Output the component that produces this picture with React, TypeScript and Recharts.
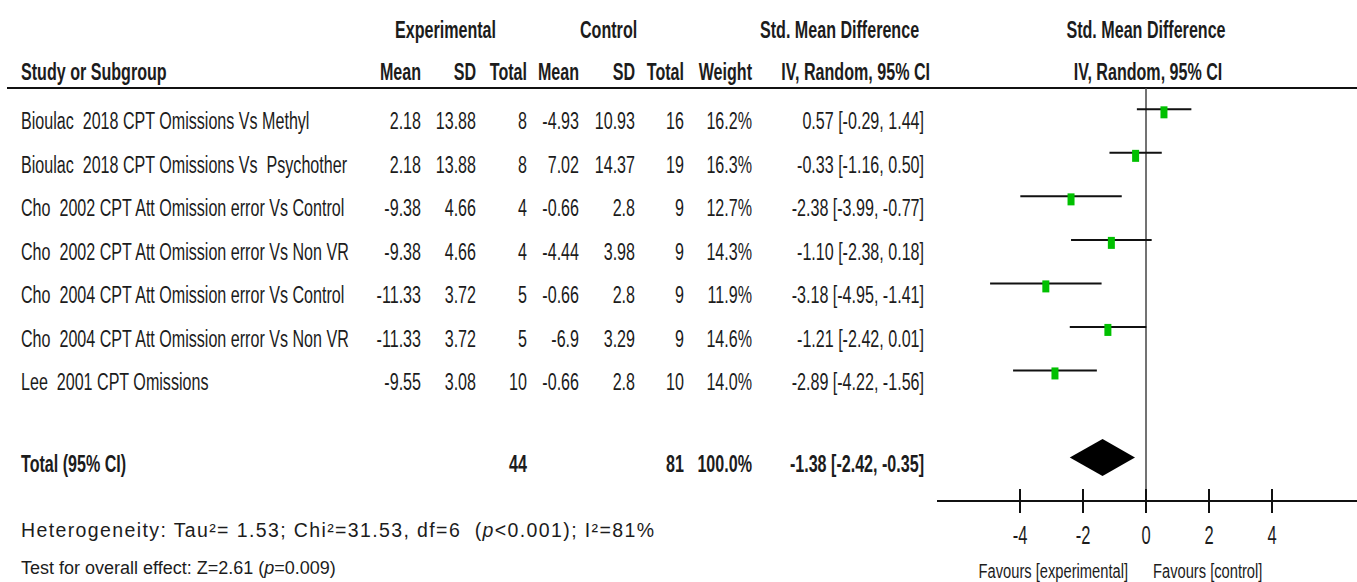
import { ComposedChart, Scatter, ErrorBar, XAxis, YAxis, ReferenceLine } from 'recharts'

// study rows
const studyNames = [
  'Bioulac  2018 CPT Omissions Vs Methyl',
  'Bioulac  2018 CPT Omissions Vs  Psychother',
  'Cho  2002 CPT Att Omission error Vs Control',
  'Cho  2002 CPT Att Omission error Vs Non VR',
  'Cho  2004 CPT Att Omission error Vs Control',
  'Cho  2004 CPT Att Omission error Vs Non VR',
  'Lee  2001 CPT Omissions',
]
const expMean = [2.18, 2.18, -9.38, -9.38, -11.33, -11.33, -9.55]
const expSD = [13.88, 13.88, 4.66, 4.66, 3.72, 3.72, 3.08]
const expN = [8, 8, 4, 4, 5, 5, 10]
const ctrlMean = [-4.93, 7.02, -0.66, -4.44, -0.66, -6.9, -0.66]
const ctrlSD = [10.93, 14.37, 2.8, 3.98, 2.8, 3.29, 2.8]
const ctrlN = [16, 19, 9, 9, 9, 9, 10]
const weights = [16.2, 16.3, 12.7, 14.3, 11.9, 14.6, 14.0]
const smd = [0.57, -0.33, -2.38, -1.1, -3.18, -1.21, -2.89]
const ciLow = [-0.29, -1.16, -3.99, -2.38, -4.95, -2.42, -4.22]
const ciHigh = [1.44, 0.5, -0.77, 0.18, -1.41, 0.01, -1.56]

// pooled estimate
const totalSmd = -1.38
const totalLow = -2.42
const totalHigh = -0.35
const totalExpN = 44
const totalCtrlN = 81
const totalWeight = 100.0

const xTicks = [-4, -2, 0, 2, 4]
const TOTAL_ROW = 9

const studyData = smd.map((v, i) => ({
  x: v,
  y: i + 1,
  err: [v - ciLow[i], ciHigh[i] - v],
}))
const diamondData = [totalLow, totalSmd, totalHigh].map((v) => ({ x: v, y: TOTAL_ROW }))
const rowTicks = [...studyNames.map((_, i) => i + 1), TOTAL_ROW]

const INK = '#1c1c1c'
const FONT = '"Liberation Sans", Arial, sans-serif'
const NARROW = 0.685

const fmtCI = (m: number, lo: number, hi: number) =>
  `${m.toFixed(2)} [${lo.toFixed(2)}, ${hi.toFixed(2)}]`

function NText({ x, y, anchor = 'start', bold = false, size = 23.5, sx = NARROW, children }: any) {
  return (
    <text
      transform={`translate(${x},${y}) scale(${sx},1)`}
      textAnchor={anchor}
      fontFamily={FONT}
      fontSize={size}
      fontWeight={bold ? 700 : 400}
      fill={INK}
      style={{ whiteSpace: 'pre' }}
    >
      {children}
    </text>
  )
}

// table columns: right edges of the numeric columns
const COL = { name: 21, eMean: 421, eSD: 476, eN: 527, cMean: 579, cSD: 635, cN: 684, w: 752, ci: 924 }

function RowTick(props: any) {
  const { y, payload } = props
  const v = payload.value
  if (v === TOTAL_ROW) {
    const by = y + 15
    return (
      <g>
        <NText x={COL.name} y={by} bold>Total (95% CI)</NText>
        <NText x={COL.eN} y={by} anchor="end" bold>{totalExpN}</NText>
        <NText x={COL.cN} y={by} anchor="end" bold>{totalCtrlN}</NText>
        <NText x={COL.w} y={by} anchor="end" bold>{totalWeight.toFixed(1)}%</NText>
        <NText x={COL.ci} y={by} anchor="end" bold>{fmtCI(totalSmd, totalLow, totalHigh)}</NText>
      </g>
    )
  }
  const i = v - 1
  const by = y + 20
  return (
    <g>
      <NText x={COL.name} y={by}>{studyNames[i]}</NText>
      <NText x={COL.eMean} y={by} anchor="end">{String(expMean[i])}</NText>
      <NText x={COL.eSD} y={by} anchor="end">{String(expSD[i])}</NText>
      <NText x={COL.eN} y={by} anchor="end">{expN[i]}</NText>
      <NText x={COL.cMean} y={by} anchor="end">{String(ctrlMean[i])}</NText>
      <NText x={COL.cSD} y={by} anchor="end">{String(ctrlSD[i])}</NText>
      <NText x={COL.cN} y={by} anchor="end">{ctrlN[i]}</NText>
      <NText x={COL.w} y={by} anchor="end">{weights[i].toFixed(1)}%</NText>
      <NText x={COL.ci} y={by} anchor="end">{fmtCI(smd[i], ciLow[i], ciHigh[i])}</NText>
    </g>
  )
}

function AxisTick(props: any) {
  const { x, y, payload } = props
  return (
    <g>
      <line x1={x} x2={x} y1={y - 12} y2={y + 12} stroke="#111" strokeWidth={2} />
      <NText x={x} y={y + 43} anchor="middle" size={25} sx={0.66}>{String(payload.value)}</NText>
    </g>
  )
}

const StudyBox = (props: any) => {
  const { cx, cy } = props
  return <rect x={cx - 3.5} y={cy - 3} width={7} height={12} fill="#00C000" />
}

const Diamond = (props: any) => {
  const p = props.points
  if (!p || p.length < 3) return <g />
  const [lo, mid, hi] = p
  const h = 18.5
  return (
    <polygon
      points={`${lo.x},${lo.y} ${mid.x},${mid.y - h} ${hi.x},${hi.y} ${mid.x},${mid.y + h}`}
      fill="#000"
    />
  )
}

export default function App() {
  return (
    <div style={{ position: 'absolute', left: 0, top: 0, background: '#fff' }}>
      <ComposedChart width={1357} height={582} margin={{ top: 88, right: 0, bottom: 0, left: 0 }}>
        <XAxis
          type="number"
          dataKey="x"
          domain={[-6.635, 6.698]}
          allowDataOverflow
          ticks={xTicks}
          interval={0}
          height={81}
          tickSize={0}
          tickMargin={0}
          tickLine={false}
          axisLine={{ stroke: '#111', strokeWidth: 2 }}
          tick={<AxisTick />}
        />
        <YAxis
          type="number"
          dataKey="y"
          domain={[0.51, 10]}
          reversed
          allowDataOverflow
          ticks={rowTicks}
          interval={0}
          width={937}
          axisLine={false}
          tickLine={false}
          tick={<RowTick />}
        />
        <ReferenceLine x={0} stroke="#444" strokeWidth={1.5} />
        <Scatter data={studyData} shape={<StudyBox />} isAnimationActive={false}>
          <ErrorBar dataKey="err" direction="x" width={0} stroke="#111" strokeWidth={2} isAnimationActive={false} />
        </Scatter>
        <Scatter
          data={diamondData}
          shape={() => <g />}
          line={Diamond}
          isAnimationActive={false}
        />

        {/* column headers */}
        <NText x={395} y={38} bold>Experimental</NText>
        <NText x={580} y={38} bold>Control</NText>
        <NText x={760} y={38} bold>Std. Mean Difference</NText>
        <NText x={1146} y={38} anchor="middle" bold>Std. Mean Difference</NText>
        <NText x={COL.name} y={80} bold>Study or Subgroup</NText>
        <NText x={COL.eMean} y={80} anchor="end" bold>Mean</NText>
        <NText x={COL.eSD} y={80} anchor="end" bold>SD</NText>
        <NText x={COL.eN} y={80} anchor="end" bold>Total</NText>
        <NText x={COL.cMean} y={80} anchor="end" bold>Mean</NText>
        <NText x={COL.cSD} y={80} anchor="end" bold>SD</NText>
        <NText x={COL.cN} y={80} anchor="end" bold>Total</NText>
        <NText x={COL.w} y={80} anchor="end" bold>Weight</NText>
        <NText x={930} y={80} anchor="end" bold>IV, Random, 95% CI</NText>
        <NText x={1148} y={80} anchor="middle" bold>IV, Random, 95% CI</NText>
        <line x1={7} x2={1357} y1={88} y2={88} stroke="#111" strokeWidth={2} />

        <NText x={1128} y={578} anchor="end" size={21} sx={0.7}>Favours [experimental]</NText>
        <NText x={1153} y={578} size={21} sx={0.7}>Favours [control]</NText>

        {/* heterogeneity and overall-effect notes */}
        <text
          x={21}
          y={537}
          fontFamily={FONT}
          fontSize={19.5}
          fill={INK}
          textLength={633}
          lengthAdjust="spacing"
          style={{ whiteSpace: 'pre' }}
        >
          Heterogeneity: Tau²= 1.53; Chi²=31.53, df=6  (<tspan fontStyle="italic">p</tspan>&lt;0.001); I²=81%
        </text>
        <text x={21} y={574} fontFamily={FONT} fontSize={18} fill={INK} style={{ whiteSpace: 'pre' }}>
          Test for overall effect: Z=2.61 (<tspan fontStyle="italic">p</tspan>=0.009)
        </text>
      </ComposedChart>
    </div>
  )
}
